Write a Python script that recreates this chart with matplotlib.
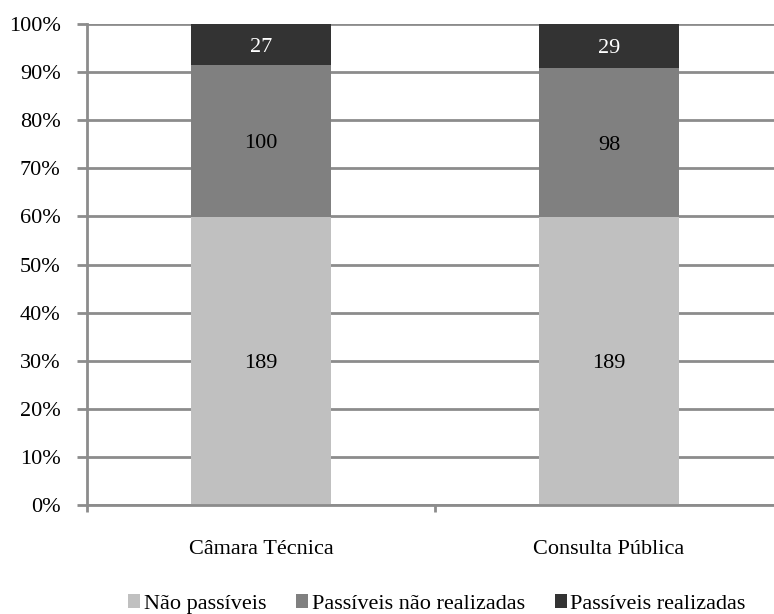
import matplotlib.pyplot as plt
import numpy as np
from matplotlib.patches import Patch

categories = ["Câmara Técnica", "Consulta Pública"]
series_names = ["Não passíveis", "Passíveis não realizadas", "Passíveis realizadas"]
nao_passiveis = [189, 189]
passiveis_nao_realizadas = [100, 98]
passiveis_realizadas = [27, 29]
yticks = [0, 10, 20, 30, 40, 50, 60, 70, 80, 90, 100]

colors = ["#c0c0c0", "#808080", "#333333"]
text_colors = ["black", "black", "white"]
grid_color = "#8c8c8c"
fs = 16

plt.rcParams["font.family"] = ["Liberation Serif", "DejaVu Serif"]

fig = plt.figure(figsize=(7.74, 6.14), dpi=100)
ax = fig.add_axes([87 / 774, 1 - 505 / 614, 696 / 774, 481 / 614])

series = np.array([nao_passiveis, passiveis_nao_realizadas, passiveis_realizadas], dtype=float)
totals = series.sum(axis=0)
pct = series / totals * 100

x = np.arange(len(categories))
bottom = np.zeros(len(categories))
for i in range(len(series)):
    ax.bar(x, pct[i], 0.4, bottom=bottom, color=colors[i], zorder=3)
    for j in range(len(categories)):
        ax.annotate("%d" % series[i][j], (x[j], bottom[j] + pct[i][j] / 2),
                    xytext=(0, -2), textcoords="offset points",
                    ha="center", va="center", fontsize=fs, color=text_colors[i], zorder=4)
    bottom += pct[i]

ax.set_xlim(-0.5, 1.5)
ax.set_ylim(0, 100)
ax.set_yticks(yticks)
ax.set_yticklabels(["%d%%" % t for t in yticks], fontsize=fs)
ax.set_xticks([-0.5, 0.5])
ax.set_xticklabels([])
ax.set_xticks(x, minor=True)
ax.set_xticklabels(categories, minor=True, fontsize=fs)
ax.tick_params(axis="x", which="minor", length=0, pad=25)
ax.tick_params(axis="x", which="major", length=5, width=2, color=grid_color, direction="out")
ax.tick_params(axis="y", length=7, width=2, color=grid_color, direction="out", pad=12)

ax.yaxis.grid(True, color=grid_color, linewidth=2, zorder=0)
for side in ["top", "right"]:
    ax.spines[side].set_visible(False)
for side in ["left", "bottom"]:
    ax.spines[side].set_color(grid_color)
    ax.spines[side].set_linewidth(2)
    ax.spines[side].set_zorder(5)

handles = [Patch(facecolor=c, edgecolor="none") for c in colors]
fig.legend(handles, series_names, loc="center", bbox_to_anchor=(437 / 774, 1 - 604 / 614),
           ncol=3, frameon=False, fontsize=fs, handlelength=0.55, handleheight=0.55,
           handletextpad=0.15, columnspacing=1.35, borderaxespad=0, borderpad=0)

fig.savefig("out.png", dpi=100)
